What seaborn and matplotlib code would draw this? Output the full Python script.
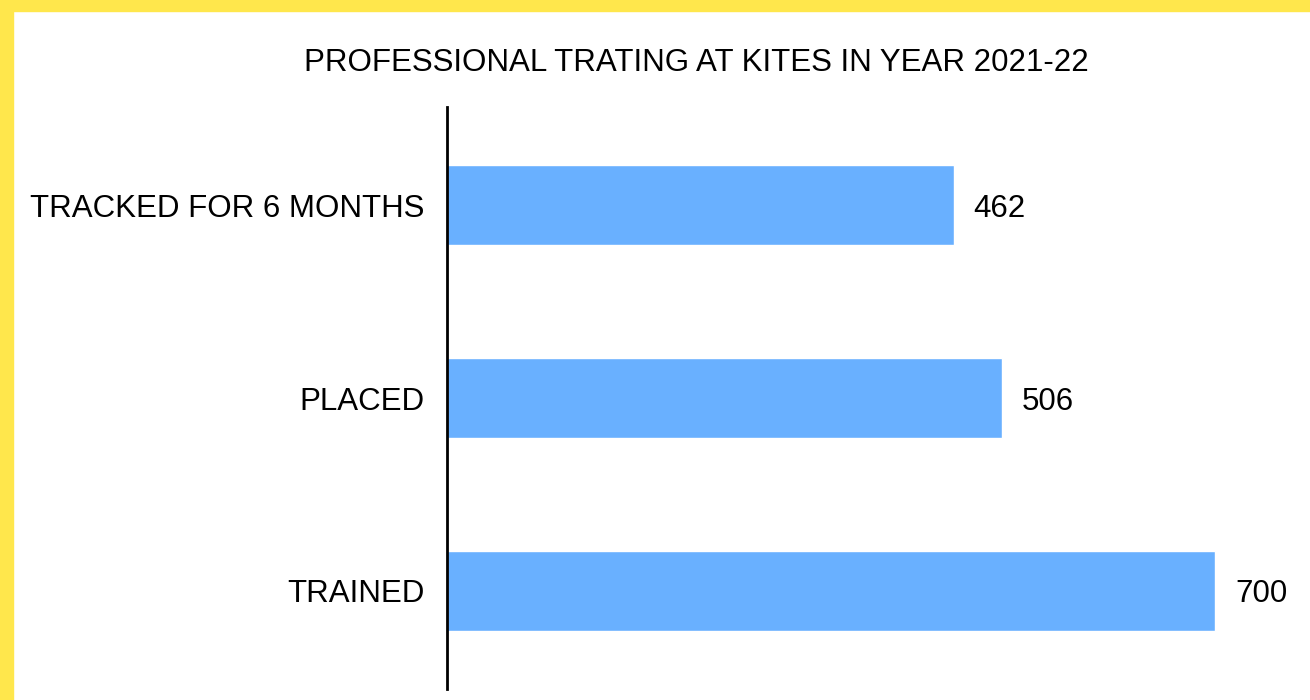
import matplotlib
matplotlib.use('Agg')
import matplotlib.pyplot as plt
import seaborn as sns
from matplotlib.patches import Rectangle

# Data
categories = ['TRACKED FOR 6 MONTHS', 'PLACED', 'TRAINED']
values = [462, 506, 700]
title = 'PROFESSIONAL TRATING AT KITES IN YEAR 2021-22'

sns.set_style('white')
plt.rcParams['font.family'] = ['Liberation Sans', 'DejaVu Sans']

fig = plt.figure(figsize=(13.1, 7), dpi=100)
ax = fig.add_axes([447 / 1310, 1 - 689 / 700, (1300 - 447) / 1310, (689 - 107) / 700])

sns.barplot(x=values, y=categories, color='#69b0ff', saturation=1, width=0.415,
            orient='h', ax=ax)

ax.set_xlim(0, 777)
ax.set_ylim(2.51, -0.51)
for c in ax.containers:
    for t in ax.bar_label(c, padding=14, fontsize=22.5, color='black'):
        t.set_va('center_baseline')

ax.set_xlabel('')
ax.set_ylabel('')
ax.set_xticks([])
ax.tick_params(axis='y', length=0, pad=16, labelsize=22.5, labelcolor='black')
for s in ['top', 'right', 'bottom']:
    ax.spines[s].set_visible(False)
ax.spines['left'].set_color('black')
ax.spines['left'].set_linewidth(2)
ax.spines['left'].set_zorder(5)

fig.text(696 / 1310, 1 - 63 / 700, title, ha='center', va='center', fontsize=22.5, color='black')

# yellow frame on top and left edges
fig.patches.append(Rectangle((0, 0), 13 / 1310, 1, transform=fig.transFigure,
                             color='#ffe74c', zorder=10))
fig.patches.append(Rectangle((0, 1 - 11 / 700), 1, 11 / 700, transform=fig.transFigure,
                             color='#ffe74c', zorder=10))

fig.savefig('out.png', dpi=100)
